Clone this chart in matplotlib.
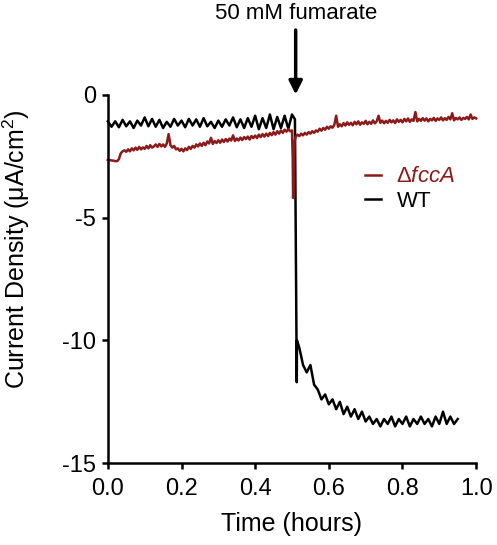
import numpy as np
import matplotlib
matplotlib.use("Agg")
import matplotlib.pyplot as plt
from matplotlib.lines import Line2D

plt.rcParams['font.family'] = ['Liberation Sans', 'DejaVu Sans']
plt.rcParams['axes.unicode_minus'] = False
plt.rcParams['mathtext.fontset'] = 'custom'
plt.rcParams['mathtext.rm'] = 'Liberation Sans'
plt.rcParams['mathtext.it'] = 'Liberation Sans:italic'

RED = '#8c1a1a'

# WT before fumarate (t = 0.00 .. 0.50, step 0.01)
wt_pre = [-1.08, -1.30, -1.08, -1.32, -1.02, -1.28, -1.08, -1.35, -1.05, -1.25,
          -0.92, -1.28, -0.98, -1.30, -1.02, -1.35, -1.10, -1.30, -0.98, -1.25,
          -1.05, -1.32, -0.98, -1.25, -1.00, -1.30, -0.95, -1.28, -1.10, -1.35,
          -1.05, -1.30, -1.00, -1.25, -0.92, -1.32, -1.00, -1.35, -0.95, -1.30,
          -0.85, -1.40, -0.95, -1.35, -0.80, -1.40, -0.90, -1.35, -0.85, -1.38, -0.80]
# WT drop at fumarate addition
wt_drop_t = [0.508, 0.513, 0.5135]
wt_drop = [-1.00, -11.70, -10.00]
# WT after fumarate (t = 0.52 .. 0.95, step 0.01)
wt_post = [-10.3, -11.0, -11.3, -11.0, -11.8, -12.0, -12.4, -12.2, -12.6, -12.4,
           -12.8, -12.5, -13.0, -12.7, -13.1, -12.8, -13.2, -12.9, -13.3, -13.1,
           -13.4, -13.2, -13.5, -13.2, -13.4, -13.1, -13.5, -13.2, -13.4, -13.1,
           -13.5, -13.2, -13.4, -13.1, -13.4, -13.2, -13.5, -13.1, -13.4, -12.9,
           -13.4, -13.1, -13.4, -13.2]

# dfccA before fumarate (t = 0.000 .. 0.500, step 0.005)
fcc_pre = [-2.65, -2.66, -2.67, -2.68, -2.70, -2.70, -2.62, -2.38, -2.30, -2.26,
           -2.32, -2.22, -2.30, -2.18, -2.26, -2.15, -2.24, -2.12, -2.22, -2.14,
           -2.20, -2.08, -2.18, -2.05, -2.15, -2.10, -2.02, -2.12, -2.00, -2.10,
           -2.02, -2.12, -1.98, -1.60, -2.05, -2.15, -2.08, -2.22, -2.18, -2.28,
           -2.20, -2.30, -2.18, -2.25, -2.12, -2.20, -2.08, -2.15, -2.02, -2.10,
           -1.98, -2.08, -1.95, -2.05, -1.90, -1.98, -1.75, -2.00, -1.88, -1.96,
           -1.85, -1.95, -1.82, -1.92, -1.80, -1.90, -1.78, -1.86, -1.65, -1.88,
           -1.78, -1.86, -1.74, -1.84, -1.72, -1.80, -1.70, -1.82, -1.68, -1.76,
           -1.66, -1.76, -1.62, -1.72, -1.60, -1.70, -1.58, -1.68, -1.55, -1.64,
           -1.52, -1.62, -1.48, -1.58, -1.45, -1.55, -1.42, -1.50, -1.40, -1.48, -1.45]
# dfccA dip at fumarate addition
fcc_dip_t = [0.502, 0.503, 0.505, 0.507]
fcc_dip = [-2.60, -4.20, -3.40, -1.90]
# dfccA after fumarate (t = 0.510 .. 1.000, step 0.005)
fcc_post = [-1.70, -1.62, -1.68, -1.58, -1.65, -1.55, -1.62, -1.52, -1.58, -1.48,
            -1.55, -1.45, -1.50, -1.38, -1.46, -1.35, -1.42, -1.30, -1.38, -1.28,
            -1.34, -1.22, -0.85, -1.30, -1.20, -1.28, -1.15, -1.25, -1.12, -1.22,
            -1.14, -1.24, -1.10, -1.20, -1.08, -1.22, -1.12, -1.18, -1.06, -1.20,
            -1.10, -1.18, -1.04, -1.16, -1.08, -0.85, -1.14, -1.05, -1.16, -1.06,
            -1.14, -1.02, -1.12, -1.04, -1.15, -1.00, -1.10, -1.02, -1.12, -0.98,
            -1.08, -0.96, -1.10, -1.00, -1.06, -0.70, -1.08, -0.98, -1.06, -0.95,
            -1.05, -0.96, -1.08, -0.98, -1.04, -0.94, -1.06, -0.96, -1.02, -0.92,
            -1.04, -0.95, -1.02, -0.90, -1.00, -0.75, -1.04, -0.94, -1.00, -0.92,
            -1.02, -0.94, -0.98, -0.90, -1.00, -0.80, -0.98, -0.92, -0.96]

wt_t = np.concatenate([np.linspace(0.0, 0.5, len(wt_pre)), wt_drop_t,
                       np.linspace(0.52, 0.95, len(wt_post))])
wt_y = np.concatenate([wt_pre, wt_drop, wt_post])
fcc_t = np.concatenate([np.linspace(0.0, 0.5, len(fcc_pre)), fcc_dip_t,
                        np.linspace(0.51, 1.0, len(fcc_post))])
fcc_y = np.concatenate([fcc_pre, fcc_dip, fcc_post])

fig = plt.figure(figsize=(4.97, 5.45), dpi=100)
ax = fig.add_axes([0.217, 0.150, 0.741, 0.676])

ax.plot(wt_t, wt_y, color='black', lw=1.8, clip_on=False)
ax.plot(fcc_t, fcc_y, color=RED, lw=1.8, clip_on=False)

ax.set_xlim(0, 1.0)
ax.set_ylim(-15, 0)
ax.set_xticks([0.0, 0.2, 0.4, 0.6, 0.8, 1.0])
ax.set_xticklabels(['0.0', '0.2', '0.4', '0.6', '0.8', '1.0'])
ax.set_yticks([0, -5, -10, -15])
ax.set_yticklabels(['0', '-5', '-10', '-15'])
for s in ['top', 'right']:
    ax.spines[s].set_visible(False)
for s in ['left', 'bottom']:
    ax.spines[s].set_linewidth(1.8)
ax.tick_params(width=1.8, length=4.5, labelsize=17)
ax.tick_params(axis='x', pad=6)
ax.tick_params(axis='y', pad=4)

ax.set_xlabel('Time (hours)', fontsize=18)
ax.set_ylabel(r'Current Density ($\mathrm{\mu}$A/cm$^2$)', fontsize=18)
ax.xaxis.set_label_coords(0.5, -0.133)
ax.yaxis.set_label_coords(-0.207, 0.58)

ax.annotate('', xy=(0.51, -0.1), xytext=(0.51, 2.75), xycoords='data',
            arrowprops=dict(arrowstyle='-|>', lw=2.5, color='black', mutation_scale=20),
            annotation_clip=False)
ax.text(0.51, 3.3, '50 mM fumarate', ha='center', va='center', fontsize=16,
        clip_on=False)

handles = [Line2D([], [], color=RED, lw=1.8), Line2D([], [], color='black', lw=1.8)]
leg = ax.legend(handles, [r'$\Delta\mathit{fccA}$', 'WT'], loc='upper left',
                bbox_to_anchor=(0.645, 0.86), frameon=False, fontsize=16,
                handlelength=0.7, handletextpad=0.7, labelspacing=0.15)
leg.get_texts()[0].set_color(RED)

fig.savefig('out.png', dpi=100)
